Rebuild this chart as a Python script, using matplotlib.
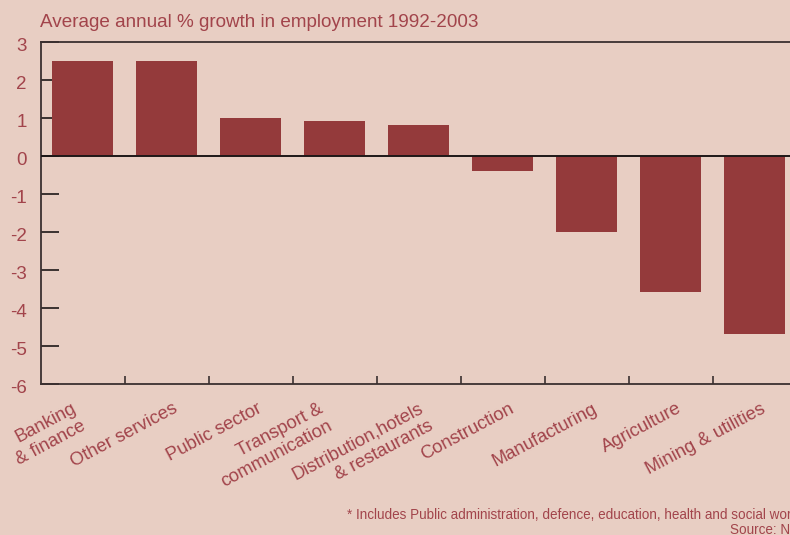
import numpy as np
import matplotlib
matplotlib.use("Agg")
import matplotlib.pyplot as plt
import matplotlib.transforms as mtransforms

# Sectors and average annual % growth in employment, 1992-2003
sectors = ["Banking\n& finance", "Other services", "Public sector", "Transport &\ncommunication",
           "Distribution,hotels\n& restaurants", "Construction", "Manufacturing", "Agriculture",
           "Mining & utilities"]
growth = [2.5, 2.5, 1.0, 0.9, 0.8, -0.4, -2.0, -3.6, -4.7]
yticks = [3, 2, 1, 0, -1, -2, -3, -4, -5, -6]

bg = "#e8cec3"
bar_col = "#943a3b"
txt_col = "#a2444b"
line_col = "#3b3030"

plt.rcParams["font.family"] = ["Liberation Sans", "DejaVu Sans"]

W, H = 790, 535
fig = plt.figure(figsize=(W / 100, H / 100), dpi=100, facecolor=bg)
# axes runs off the right edge of the figure
ax = fig.add_axes([40.5 / W, (H - 383.5) / H, 756 / W, 342 / H], facecolor=bg)

x = np.arange(len(sectors))
ax.bar(x, growth, width=0.73, color=bar_col, zorder=2)
ax.axhline(0, color="#1e1818", lw=1.4, zorder=3)

ax.set_xlim(-0.5, 8.5)
ax.set_ylim(-6, 3)

for side in ["left", "top", "bottom", "right"]:
    ax.spines[side].set_color(line_col)
    ax.spines[side].set_linewidth(1.3)

ax.set_yticks(yticks)
ax.set_yticklabels([str(v) for v in yticks], color=txt_col, fontsize=13.5)
ax.tick_params(axis="y", direction="in", length=13, width=1.2, color="#1e1818", pad=10)
down = mtransforms.ScaledTranslation(0, -3 / 100, fig.dpi_scale_trans)
for lab in ax.get_yticklabels():
    lab.set_transform(lab.get_transform() + down)

# tick marks sit between the categories, labels sit under the bars
ax.set_xticks(x + 0.5, minor=True)
ax.tick_params(axis="x", which="minor", direction="in", length=6, width=1.2, color=line_col)
ax.set_xticks(x)
ax.set_xticklabels(sectors, rotation=28, ha="right", va="top", rotation_mode="anchor",
                   multialignment="right", color=txt_col, fontsize=13.2)
ax.tick_params(axis="x", which="major", length=0, pad=12)
# two-line labels sit a little further left
nudge = {0: -17, 3: -22, 4: -6}
for i, lab in enumerate(ax.get_xticklabels()):
    dx = 6 + nudge.get(i, 0)
    lab.set_transform(lab.get_transform() +
                      mtransforms.ScaledTranslation(dx / 100, 0, fig.dpi_scale_trans))

fig.text(40 / W, 1 - 27 / H, "Average annual % growth in employment 1992-2003",
         color=txt_col, fontsize=13.6, ha="left", va="baseline")
fig.text(347 / W, 1 - 519 / H,
         "* Includes Public administration, defence, education, health and social work",
         color=txt_col, fontsize=9.75, ha="left", va="baseline")
fig.text(730 / W, 1 - 534 / H, "Source: NS", color=txt_col, fontsize=9.75, ha="left", va="baseline")

fig.savefig("out.png", dpi=100, facecolor=bg)
